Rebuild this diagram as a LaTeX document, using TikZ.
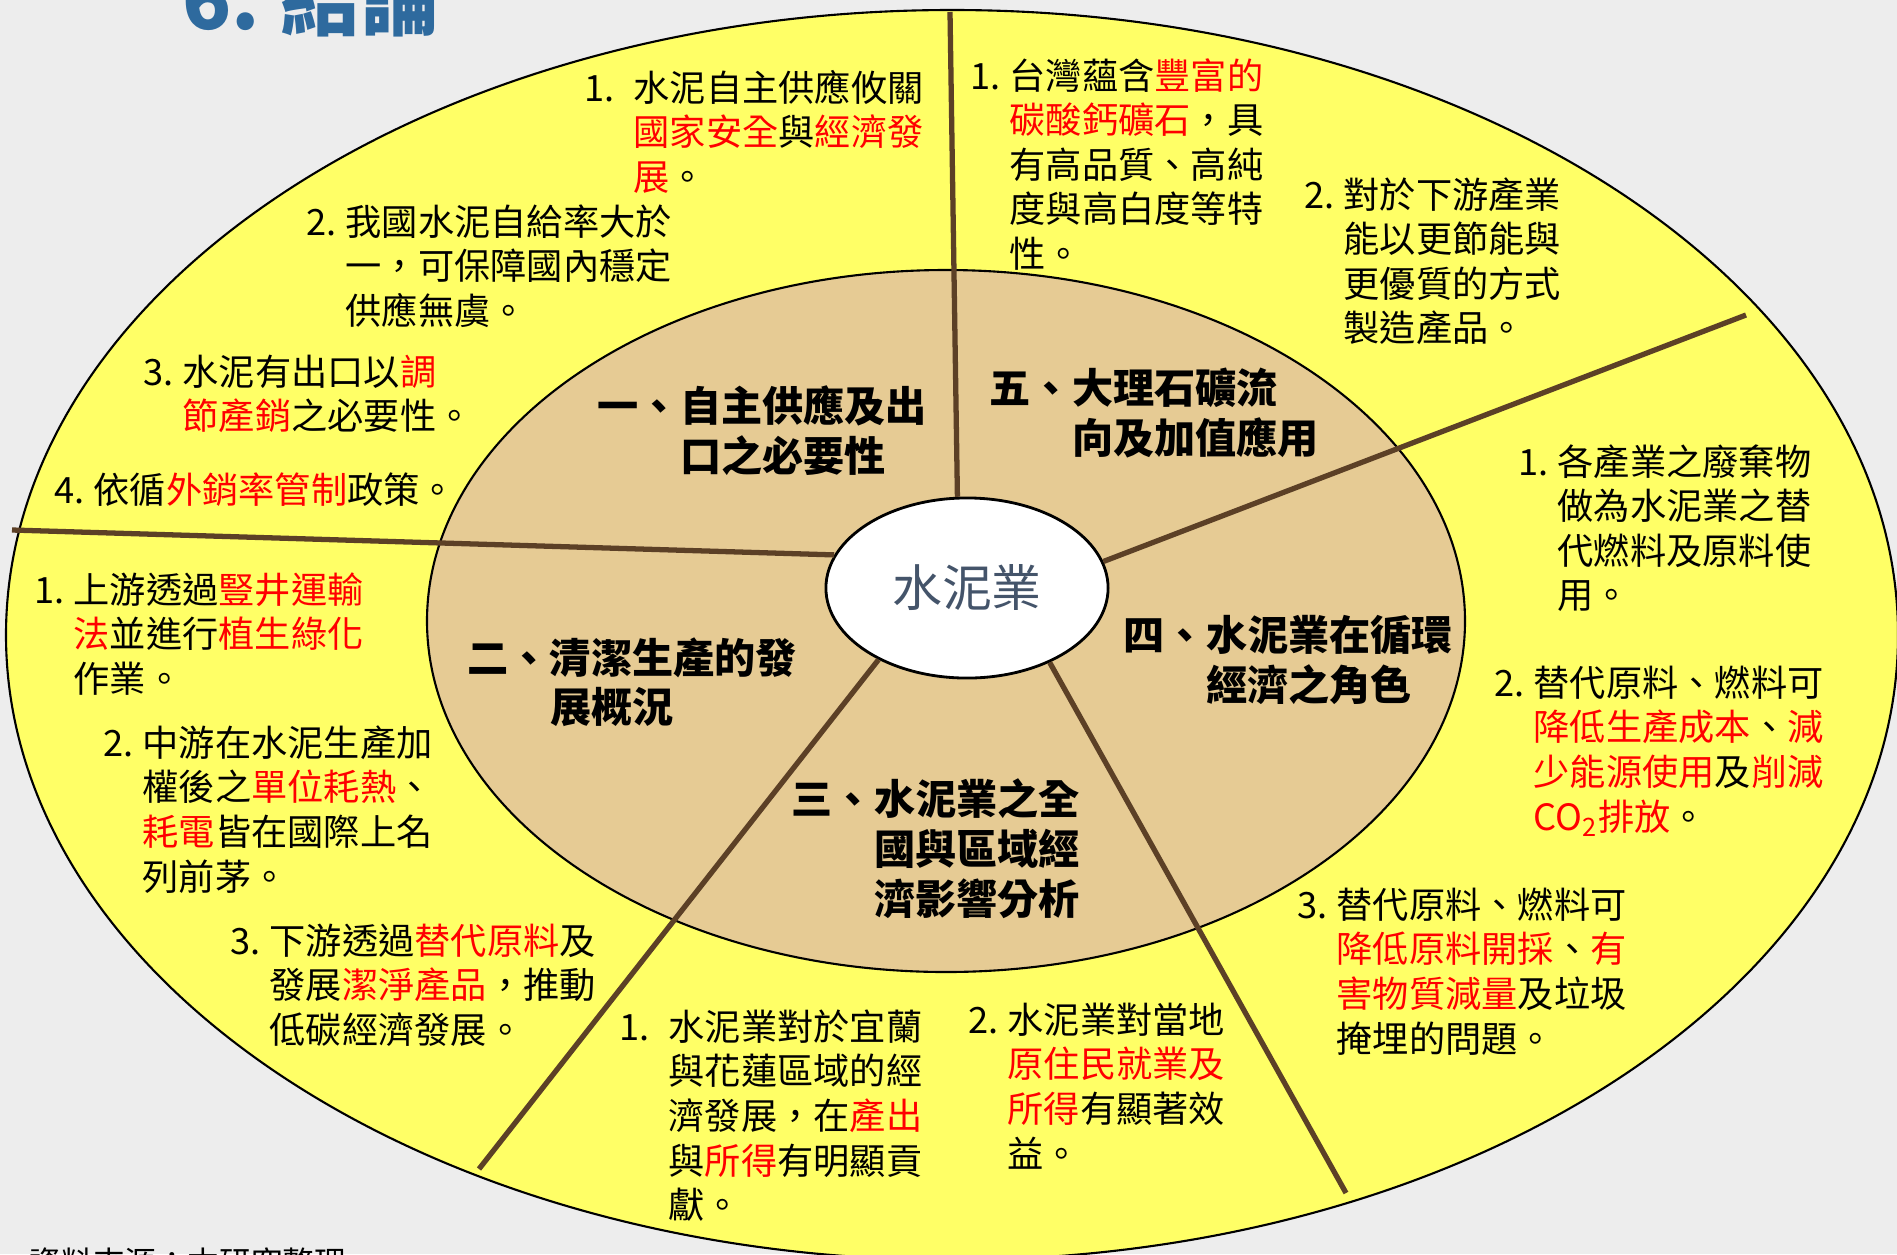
\documentclass[tikz,border=0pt]{standalone}
\usepackage{fontspec}
\newfontfamily\cjk{Noto Sans CJK TC}
\usetikzlibrary{shapes.geometric}

\definecolor{ringyellow}{HTML}{FFFF66}
\definecolor{parchment}{HTML}{E6CB94}
\definecolor{spoke}{HTML}{5C4026}
\definecolor{coretext}{HTML}{44546A}
\definecolor{titleblue}{HTML}{2E6A9E}
\definecolor{paper}{HTML}{EDEDED}

\newcommand{\rd}[1]{\textcolor{red}{#1}}
\newcommand{\numitem}[3][0.39cm]{\makebox[#1][l]{#2}\begin{tabular}[t]{@{}l@{}}#3\end{tabular}}
\newcommand{\headitem}[2]{#1\begin{tabular}[t]{@{}l@{}}#2\end{tabular}}

\tikzset{
  body/.style={anchor=base west, inner sep=0pt, font=\cjk\fontsize{10.3}{12.7}\selectfont},
  head/.style={anchor=base west, inner sep=0pt, font=\cjk\bfseries\fontsize{11.7}{14}\selectfont},
  core/.style={ellipse, draw=black, line width=0.8pt, fill=white, inner sep=0pt,
    minimum width=2.82cm, minimum height=1.8cm, text=coretext,
    font=\cjk\fontsize{14.2}{14.2}\selectfont},
  spokeline/.style={draw=spoke, line width=1.5pt},
  title/.style={anchor=base west, inner sep=0pt, text=titleblue,
    font=\cjk\bfseries\fontsize{23}{23}\selectfont},
  source/.style={anchor=base west, inner sep=0pt, font=\cjk\fontsize{9}{9}\selectfont},
}

\begin{document}
\begin{tikzpicture}[x=0.01cm,y=-0.01cm]
\useasboundingbox (0,0) rectangle (1897,1254);
\clip (0,0) rectangle (1897,1254);
\fill[paper] (0,0) rectangle (1897,1254);

% rings
\draw[fill=ringyellow, line width=0.6pt] (952,635) ellipse [x radius=946, y radius=625];
\draw[fill=parchment, line width=0.6pt] (946,621) ellipse [x radius=519, y radius=351];

% centre and spokes
\node[core] (core) at (967,588) {水泥業};
\coordinate (rimN) at (950,12);
\coordinate (rimW) at (12,530);
\coordinate (rimNE) at (1746,315);
\coordinate (rimSW) at (479,1169);
\coordinate (rimSE) at (1346,1193);
\draw[spokeline] (core.96) -- (rimN);
\draw[spokeline] (core.166.8) -- (rimW);
\draw[spokeline] (core.11.5) -- (rimNE);
\draw[spokeline] (core.219.5) -- (rimSW);
\draw[spokeline] (core.318.9) -- (rimSE);

% headings
\node[head] (hSupply) at (597,421) {\headitem{一、}{自主供應及出\\口之必要性}};
\node[head] (hMarble) at (989,403) {\headitem{五、}{大理石礦流\\向及加值應用}};
\node[head] (hCirc) at (1123,650) {\headitem{四、}{水泥業在循環\\經濟之角色}};
\node[head] (hClean) at (467,673) {\headitem{二、}{清潔生產的發\\展概況}};
\node[head] (hEcon) at (791,814) {\headitem{三、}{水泥業之全\\國與區域經\\濟影響分析}};

% 一
\node[body] (supply1) at (584,101) {\numitem[0.49cm]{1.}{水泥自主供應攸關\\\rd{國家安全}與\rd{經濟發}\\\rd{展}。}};
\node[body] (supply2) at (306,235) {\numitem{2.}{我國水泥自給率大於\\一，可保障國內穩定\\供應無虞。}};
\node[body] (supply3) at (143,385) {\numitem{3.}{水泥有出口以\rd{調}\\\rd{節產銷}之必要性。}};
\node[body] (supply4) at (54,503) {\numitem{4.}{依循\rd{外銷率管制}政策。}};

% 五
\node[body] (marble1) at (970,89) {\numitem{1.}{台灣蘊含\rd{豐富的}\\\rd{碳酸鈣礦石}，具\\有高品質、高純\\度與高白度等特\\性。}};
\node[body] (marble2) at (1304,208) {\numitem{2.}{對於下游產業\\能以更節能與\\更優質的方式\\製造產品。}};

% 四
\node[body] (circ1) at (1518,475) {\numitem{1.}{各產業之廢棄物\\做為水泥業之替\\代燃料及原料使\\用。}};
\node[body] (circ2) at (1494,696) {\numitem{2.}{替代原料、燃料可\\\rd{降低生產成本}、\rd{減}\\\rd{少能源使用}及\rd{削減}\\\rd{CO\textsubscript{2}排放}。}};
\node[body] (circ3) at (1297,918) {\numitem{3.}{替代原料、燃料可\\\rd{降低原料開採}、\rd{有}\\\rd{害物質減量}及垃圾\\掩埋的問題。}};

% 三
\node[body] (econ1) at (619,1040) {\numitem[0.49cm]{1.}{水泥業對於宜蘭\\與花蓮區域的經\\濟發展，在\rd{產出}\\與\rd{所得}有明顯貢\\獻。}};
\node[body] (econ2) at (968,1033) {\numitem{2.}{水泥業對當地\\\rd{原住民就業及}\\\rd{所得}有顯著效\\益。}};

% 二
\node[body] (clean1) at (34,603) {\numitem{1.}{上游透過\rd{豎井運輸}\\\rd{法}並進行\rd{植生綠化}\\作業。}};
\node[body] (clean2) at (103,756) {\numitem{2.}{中游在水泥生產加\\權後之\rd{單位耗熱}、\\\rd{耗電}皆在國際上名\\列前茅。}};
\node[body] (clean3) at (230,954) {\numitem{3.}{下游透過\rd{替代原料}及\\發展\rd{潔淨產品}，推動\\低碳經濟發展。}};

% title and source
\node[title] (title) at (182,29) {6.\hspace{0.2cm}結論};
\node[source] (source) at (29,1274) {資料來源：本研究整理};
\end{tikzpicture}
\end{document}
